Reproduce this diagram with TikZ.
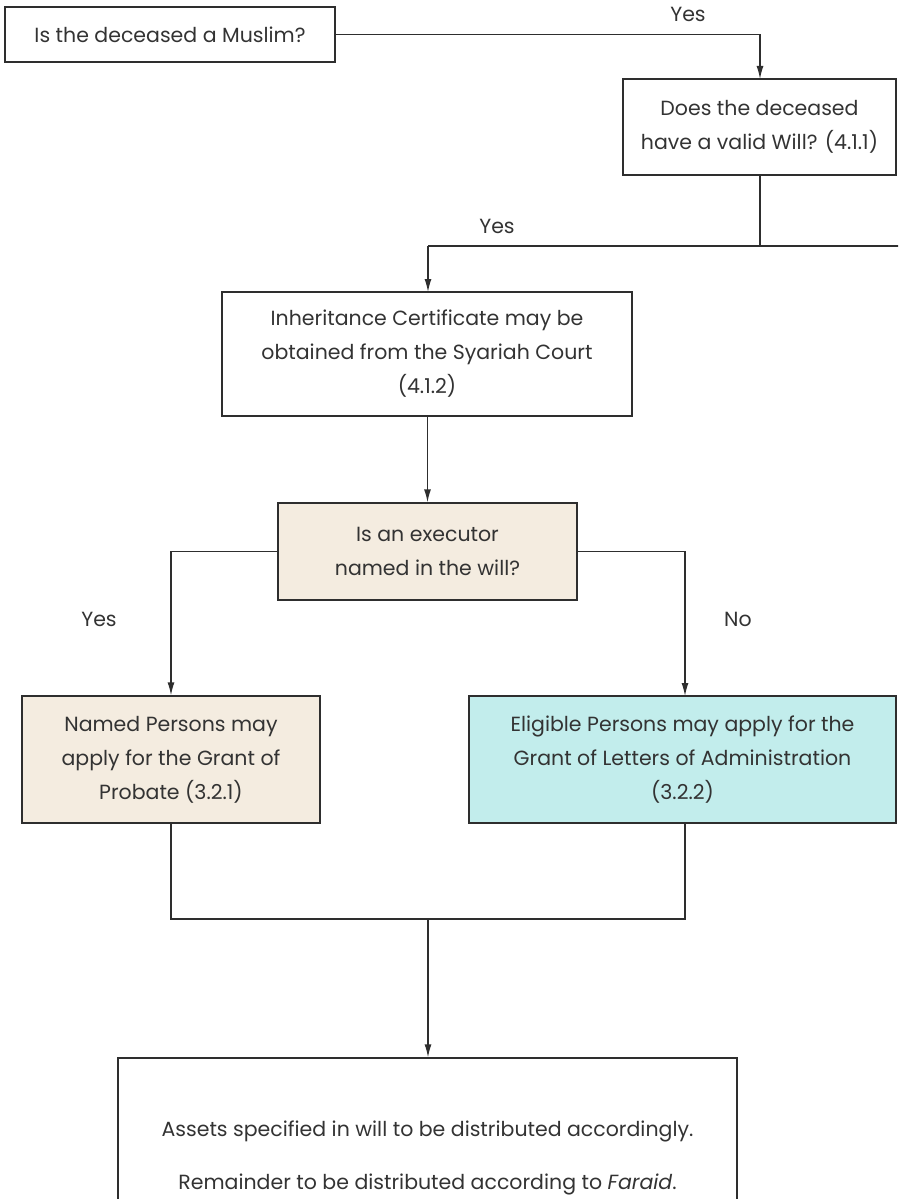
\documentclass[tikz,border=0pt]{standalone}
\usepackage{fontspec}
\setmainfont{Poppins}
\usetikzlibrary{arrows.meta}
\definecolor{beige}{HTML}{F4ECE0}
\definecolor{aqua}{HTML}{C2EDEC}
\definecolor{edge}{HTML}{2E2E2E}
\definecolor{txt}{HTML}{333333}
\begin{document}
\begin{tikzpicture}[x=1pt,y=-1pt,
  box/.style={draw=edge,line width=1.3pt,rectangle,align=center,inner sep=0pt,
    text=txt,font=\fontsize{20.5}{34}\selectfont},
  conn/.style={draw=edge,line width=1.3pt},
  arr/.style={conn,-{Latex[length=13pt,width=7pt]}},
  lbl/.style={text=txt,font=\fontsize{20.5}{22}\selectfont,inner sep=0pt}]
\useasboundingbox (0,0) rectangle (898,1199);
\clip (0,0) rectangle (898,1199);
\node[box,minimum width=330pt,minimum height=55pt] (b1) at (170,34.5) {Is the deceased a Muslim?};
\node[box,minimum width=273pt,minimum height=96pt] (b2) at (759.5,127) {Does the deceased\\have a valid Will? (4.1.1)};
\node[box,minimum width=410pt,minimum height=124pt] (b3) at (427,354) {Inheritance Certificate may be\\obtained from the Syariah Court\\(4.1.2)};
\node[box,fill=beige,minimum width=299pt,minimum height=97pt] (b4) at (427.5,551.5) {Is an executor\\named in the will?};
\node[box,fill=beige,minimum width=298pt,minimum height=127pt] (b5) at (171,759.5) {Named Persons may\\apply for the Grant of\\Probate (3.2.1)};
\node[box,fill=aqua,minimum width=427pt,minimum height=127pt] (b6) at (682.5,759.5) {Eligible Persons may apply for the\\Grant of Letters of Administration\\(3.2.2)};
\node[box,minimum width=619pt,minimum height=200pt] (b7) at (427.5,1158) {Assets specified in will to be distributed accordingly.\\[19pt]Remainder to be distributed according to \textit{Faraid}.};
% connectors
\coordinate (c1) at (760,34.5);
\draw[arr] (b1.east) -- (c1) -- (760,79);
\node[lbl] (y1) at (688,14) {Yes};
\coordinate (j1) at (760,246);
\coordinate (r1) at (900,246);
\draw[conn] (b2.south -| j1) -- (j1);
\draw[conn] (r1) -- (428,246);
\draw[arr] (428,246) -- (428,292);
\node[lbl] (y2) at (497,226) {Yes};
\draw[arr] (b3.south -| b4.north) -- (b4.north);
\coordinate (l1) at (171,551.5);
\coordinate (r2) at (685,551.5);
\draw[arr] (b4.west) -- (l1) -- (b5.north);
\draw[arr] (b4.east) -- (r2) -- (685,696);
\node[lbl] (y3) at (99,619) {Yes};
\node[lbl] (n1) at (738,619) {No};
\coordinate (m1) at (171,919);
\coordinate (m2) at (685,919);
\draw[conn] (b5.south) -- (m1) -- (m2) -- (685,823);
\draw[arr] (428,919) -- (b7.north -| 428,0);
\end{tikzpicture}
\end{document}
